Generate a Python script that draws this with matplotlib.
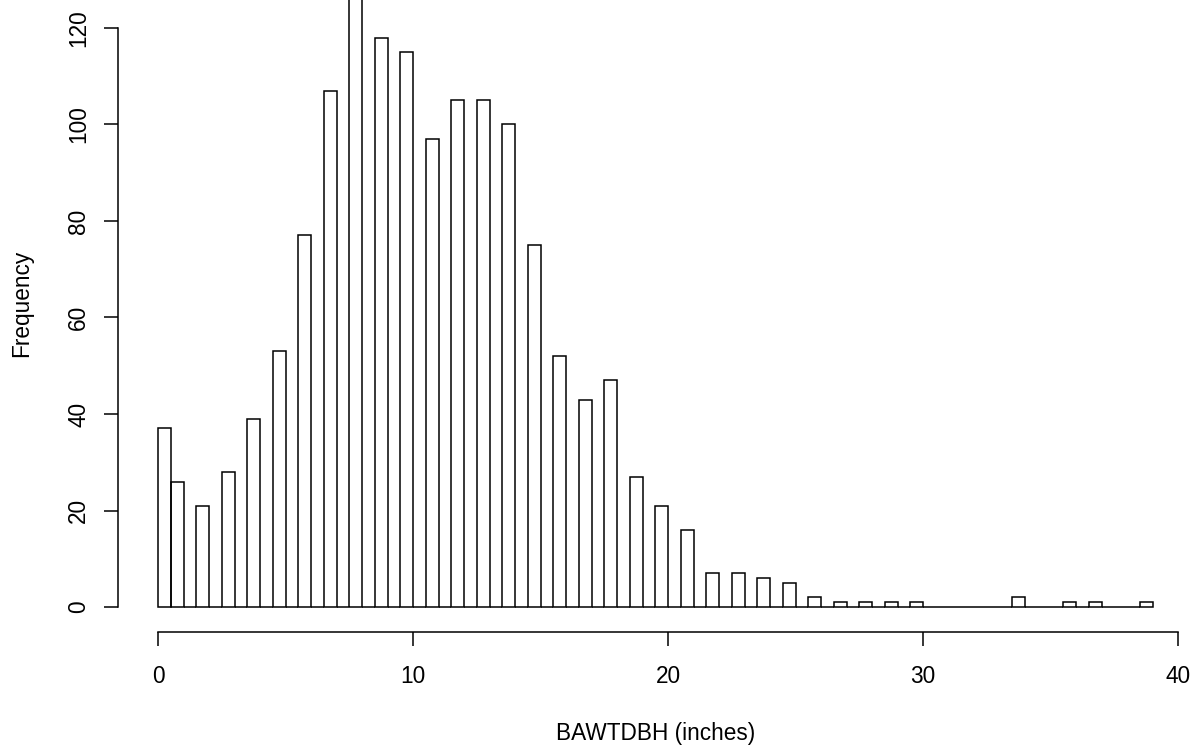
import numpy as np
import matplotlib
matplotlib.use("Agg")
import matplotlib.pyplot as plt
from matplotlib.transforms import blended_transform_factory

plt.rcParams['font.family'] = ['Liberation Sans', 'DejaVu Sans']

# Counts per integer BAWTDBH value (inches)
dbh_values = list(range(0, 40))
counts = [37, 26, 21, 28, 39, 53, 77, 107, 129, 118,
          115, 97, 105, 105, 100, 75, 52, 43, 47, 27,
          21, 16, 7, 7, 6, 5, 2, 1, 1, 1,
          1, 0, 0, 0, 2, 0, 1, 1, 0, 1]
bin_width = 0.5
xticks = [0, 10, 20, 30, 40]
yticks = [0, 20, 40, 60, 80, 100, 120]
xlabel = "BAWTDBH (inches)"
ylabel = "Frequency"

# R-style histogram with right-closed 0.5 bins
nbins = int(max(dbh_values) / bin_width)
heights = np.zeros(nbins)
for v, c in zip(dbh_values, counts):
    idx = 0 if v == 0 else int(round(v / bin_width)) - 1
    heights[idx] += c
lefts = np.arange(nbins) * bin_width

W, H = 1201, 750
FS = 16.3
fig = plt.figure(figsize=(W / 100, H / 100), dpi=100)
ax = fig.add_axes([0, 0, 1, 1])

px_per_x = 25.5
x0_px = 158
px_per_y = 4.825
y0_px = 607
ax.set_xlim(-x0_px / px_per_x, (W - x0_px) / px_per_x)
ax.set_ylim((y0_px - H) / px_per_y, y0_px / px_per_y)

ax.bar(lefts, heights, width=bin_width, align='edge', fill=False,
       edgecolor='black', linewidth=1.1)

for s in ['top', 'right']:
    ax.spines[s].set_visible(False)
ax.spines['left'].set_position(('data', (118 - x0_px) / px_per_x))
ax.spines['left'].set_bounds(0, 120)
ax.spines['bottom'].set_position(('data', (y0_px - 632) / px_per_y))
ax.spines['bottom'].set_bounds(0, 40)
for s in ['left', 'bottom']:
    ax.spines[s].set_linewidth(1.1)

ax.set_xticks(xticks)
ax.set_yticks(yticks)
ax.tick_params(axis='both', length=10, width=1.1, labelsize=FS, colors='black')
ax.tick_params(axis='y', pad=10)
ax.tick_params(axis='x', pad=14)
for lab in ax.get_yticklabels():
    lab.set_rotation(90)
    lab.set_va('center')

tx = blended_transform_factory(ax.transData, fig.transFigure)
ax.text(19.5, 1 - 740 / H, xlabel, transform=tx, ha='center', va='baseline', fontsize=FS)
ty = blended_transform_factory(fig.transFigure, ax.transData)
ax.text(28 / W, (y0_px - 303) / px_per_y, ylabel, transform=ty, rotation=90,
        rotation_mode='anchor', ha='center', va='baseline', fontsize=FS)

fig.savefig("out.png", dpi=100)
